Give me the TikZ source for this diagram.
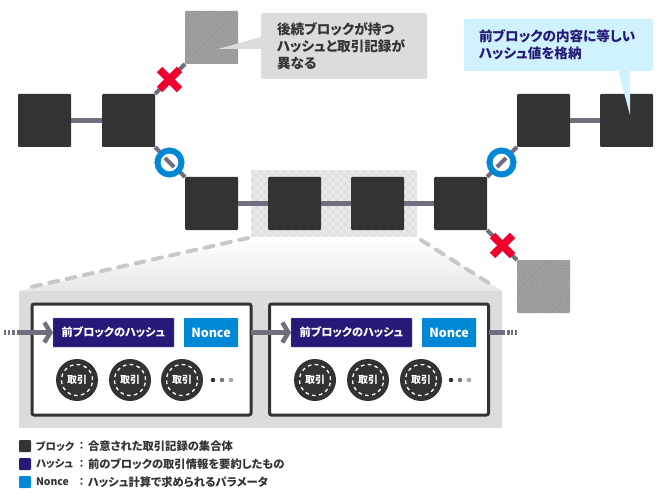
\documentclass[tikz,border=0pt]{standalone}
\usepackage{fontspec}
\setmainfont{Noto Sans CJK JP}[RawFeature=+palt]
\usetikzlibrary{arrows.meta,patterns.meta,calc}
\definecolor{blk}{HTML}{333333}
\definecolor{lnk}{HTML}{6F6F80}
\definecolor{navy}{HTML}{261A78}
\definecolor{nblue}{HTML}{0088D6}
\definecolor{xred}{HTML}{F0002D}
\definecolor{pale}{HTML}{DCDCDC}
\definecolor{cyanbox}{HTML}{D0F2FE}
\definecolor{dashgrey}{HTML}{C8C8CC}
\definecolor{hatchbg}{HTML}{A6A6A6}
\definecolor{hatchln}{HTML}{8C8C8C}
\definecolor{checka}{HTML}{E9E9E9}
\definecolor{checkb}{HTML}{E0E0E0}
\definecolor{dotb}{HTML}{777777}
\definecolor{dotc}{HTML}{AAAAAA}
\tikzset{
  x=1pt,y=-1pt,
  every node/.style={inner sep=0pt,outer sep=0pt},
  blockbox/.style={fill=blk,rounded corners=1pt,minimum width=53pt,minimum height=53pt},
  badbox/.style={fill=hatchbg,rounded corners=1pt,minimum width=53pt,minimum height=53pt,
    postaction={pattern={Lines[angle=45,distance=2.2pt,line width=.6pt]},pattern color=hatchln}},
  linkh/.style={draw=lnk,line width=5pt},
  linkd/.style={draw=lnk,line width=4pt},
  okmark/.style={circle,draw=nblue,line width=6pt,fill=white,minimum size=24pt},
  ngline/.style={draw=xred,line width=7.5pt},
  wraptxt/.style={align=left,font=\fontsize{13.6}{17}\selectfont\bfseries},
  hashbox/.style={fill=navy,draw=navy!55,line width=.4pt,rounded corners=.5pt,minimum width=121pt,minimum height=29pt,text=white,font=\fontsize{11.2}{14}\selectfont\bfseries},
  noncebox/.style={fill=nblue,rounded corners=.5pt,minimum width=54pt,minimum height=29pt,text=white,font=\fontsize{12.5}{14}\selectfont\bfseries},
  holder/.style={draw=blk,fill=white,line width=3pt,rounded corners=2pt,minimum width=219pt,minimum height=111pt},
  txbox/.style={circle,fill=blk,minimum size=42pt,text=white,font=\fontsize{10}{12}\selectfont\bfseries},
  txring/.style={draw=white,line width=1.3pt,dash pattern=on 3.6pt off 3.4pt},
  legendkey/.style={rounded corners=1pt,minimum width=12pt,minimum height=12pt},
  legendlab/.style={anchor=west,text=blk,font=\fontsize{10.4}{14}\selectfont\bfseries},
  legendcol/.style={text=blk,font=\fontsize{10}{14}\selectfont\bfseries},
  legendtxt/.style={anchor=west,text=blk,font=\fontsize{11.3}{14}\selectfont\bfseries},
  arrowlink/.style={draw=lnk,line width=4.5pt,-{Straight Barb[length=6pt,width=20pt,line width=4.5pt]}},
  zoomdash/.style={draw=dashgrey,line width=4pt,line cap=round,dash pattern=on 9pt off 8.7pt},
}
\begin{document}
\begin{tikzpicture}
\useasboundingbox (0,0) rectangle (666,497);
% highlight behind two blocks
\begin{scope}
  \clip (251,170) rectangle (417,237);
  \fill[checka] (251,170) rectangle (417,237);
  \foreach \i in {0,...,41}{\foreach \j in {0,...,16}{
    \pgfmathparse{int(mod(\i+\j,2))}
    \ifnum\pgfmathresult=0 \fill[checkb] (251+\i*4,170+\j*4) rectangle ++(4,4);\fi
  }}
\end{scope}
% zoom wedge
\shade[top color=white,bottom color=black!9] (251,237) -- (417,237) -- (502,291) -- (19,291) -- cycle;
% blocks
\node[blockbox] (a) at (44.5,120.5) {};
\node[blockbox] (b) at (128.5,120.5) {};
\node[badbox] (t) at (211.5,37.5) {};
\node[blockbox] (c) at (211.5,203.5) {};
\node[blockbox] (d) at (294.5,203.5) {};
\node[blockbox] (e) at (377.5,203.5) {};
\node[blockbox] (f) at (460.5,203.5) {};
\node[blockbox] (g) at (543.5,120.5) {};
\node[blockbox] (h) at (626.5,120.5) {};
\node[badbox] (u) at (543.5,286.5) {};
% connectors
\draw[linkh] (a.east) -- (b.west);
\draw[linkh] (c.east) -- (d.west);
\draw[linkh] (d.east) -- (e.west);
\draw[linkh] (e.east) -- (f.west);
\draw[linkh] (g.east) -- (h.west);
\draw[linkd] (b.north east) -- (t.south west);
\draw[linkd] (b.south east) -- (c.north west);
\draw[linkd] (f.north east) -- (g.south west);
\draw[linkd] (f.south east) -- (u.north west);
% ok marks
\node[okmark] (ok1) at (169.5,162.5) {};
\node[okmark] (ok2) at (501.5,162.5) {};
\draw[linkd,shorten <=5.5pt,shorten >=5.5pt] (ok1.north west) -- (ok1.south east);
\draw[linkd,shorten <=5.5pt,shorten >=5.5pt] (ok2.north east) -- (ok2.south west);
% ng marks
\coordinate (ng1) at (169.5,79.5);
\coordinate (ng2) at (502.5,245.5);
\foreach \p in {ng1,ng2}{
  \draw[ngline] ($(\p)+(-10,-10)$) -- ($(\p)+(10,10)$);
  \draw[ngline] ($(\p)+(-10,10)$) -- ($(\p)+(10,-10)$);
}
% callouts
\fill[pale] (261,37) -- (218,49) -- (261,49) -- cycle;
\node[fill=pale,rounded corners=2pt,minimum width=166pt,minimum height=66pt,anchor=north west] (note1) at (261,13) {};
\node[wraptxt,anchor=north west,text=blk] (note1t) at (277,22.5) {後続ブロックが持つ\\ハッシュと取引記録が\\異なる};
\node[fill=cyanbox,rounded corners=2pt,minimum width=189pt,minimum height=52pt,anchor=north west] (note2) at (464,19) {};
\fill[cyanbox] (618,70) -- (630,70) -- (630,115) -- cycle;
\node[wraptxt,anchor=north west,text=navy] (note2t) at (479,30) {前ブロックの内容に等しい\\ハッシュ値を格納};
% detail panel
\fill[pale] (19,291) rectangle (502,428);
\coordinate (zl1) at (248,238);
\coordinate (zl2) at (31,287);
\coordinate (zr1) at (421,240);
\coordinate (zr2) at (495,287);
\draw[zoomdash] (zl1) -- (zl2);
\draw[zoomdash] (zr1) -- (zr2);
\node[holder] (p1) at (141.5,359.5) {};
\node[holder] (p2) at (379,359.5) {};
\node[hashbox] (h1) at (113.5,332.5) {前ブロックのハッシュ};
\node[noncebox] (n1) at (211,332.5) {Nonce};
\node[hashbox] (h2) at (351.5,332.5) {前ブロックのハッシュ};
\node[noncebox] (n2) at (449,332.5) {Nonce};
\foreach \nm/\x in {q1/77,q2/130,q3/182,r1/315,r2/368,r3/421}{
  \node[txbox] (\nm) at (\x,380) {取引};
  \draw[txring] (\nm) circle (15.5pt);
}
\foreach \x/\c in {213/blk,222/dotb,231/dotc,451/blk,460/dotb,469/dotc}{
  \fill[\c] (\x,380) circle (2.3pt);
}
% arrows
\coordinate (inL) at (17,332.5);
\coordinate (outR) at (505,332.5);
\draw[arrowlink] (inL) -- (h1.west);
\draw[arrowlink] (p1.east |- h2.west) -- (h2.west);
\draw[linkh] (p2.east |- outR) -- (outR);
\foreach \x/\w in {4/2,8/2,12/3}{\fill[lnk] (\x,330) rectangle ++(\w,5);}
\foreach \x/\w in {507/3,511/2,515/2}{\fill[lnk] (\x,330) rectangle ++(\w,5);}
% legend
\node[legendkey,fill=blk] (k1) at (25,446) {};
\node[legendkey,fill=navy] (k2) at (25,464) {};
\node[legendkey,fill=nblue] (k3) at (25,482) {};
\node[legendlab] (l1) at (36,446) {ブロック};
\node[legendlab] (l2) at (36,464) {ハッシュ};
\node[legendlab] (l3) at (36,482) {Nonce};
\node[legendcol] (c1) at (81.5,446) {：};
\node[legendcol] (c2) at (81.5,464) {：};
\node[legendcol] (c3) at (81.5,482) {：};
\node[legendtxt] (d1) at (88,446) {合意された取引記録の集合体};
\node[legendtxt] (d2) at (88,464) {前のブロックの取引情報を要約したもの};
\node[legendtxt] (d3) at (88,482) {ハッシュ計算で求められるパラメータ};
\end{tikzpicture}
\end{document}
